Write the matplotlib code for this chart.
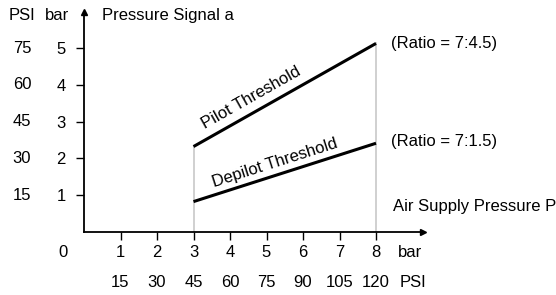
import numpy as np
import matplotlib
matplotlib.use('Agg')
import matplotlib.pyplot as plt

plt.rcParams['font.family'] = ['Liberation Sans', 'DejaVu Sans']
plt.rcParams['font.size'] = 12

# data (bar)
supply_bar = [3, 8]
pilot_bar = [2.32, 5.13]
depilot_bar = [0.82, 2.41]

x_ticks = [1, 2, 3, 4, 5, 6, 7, 8]
x_psi = ['15', '30', '45', '60', '75', '90', '105', '120']
y_ticks = [1, 2, 3, 4, 5]
y_psi = ['15', '30', '45', '60', '75']

W, H = 556, 295
fig = plt.figure(figsize=(W / 100, H / 100), dpi=100)

# origin at pixel (84, 231.7), ~36.5 px per bar
x0, y0 = 84, 231.7
xmax, ymax = 9.3, 5.99
ax = fig.add_axes([x0 / W, (H - y0) / H, xmax * 36.5 / W, ymax * 36.7 / H])
ax.set_xlim(0, xmax)
ax.set_ylim(0, ymax)

for s in ['top', 'right']:
    ax.spines[s].set_visible(False)
for s in ['left', 'bottom']:
    ax.spines[s].set_linewidth(1.3)

# arrow heads
ax.plot(1, 0, '>k', ms=5, transform=ax.get_yaxis_transform(), clip_on=False)
ax.plot(0, 1, '^k', ms=5, transform=ax.get_xaxis_transform(), clip_on=False)

ax.set_xticks(x_ticks)
ax.set_yticks(y_ticks)
ax.tick_params(axis='x', length=5.5, width=1, pad=4)
ax.tick_params(axis='y', length=6, width=1, pad=7)

# grey verticals at the ends of the supply range
ax.plot([supply_bar[0]] * 2, [0, pilot_bar[0]], color='#c8c8c8', lw=1.2, zorder=1)
ax.plot([supply_bar[1]] * 2, [0, pilot_bar[1]], color='#c8c8c8', lw=1.2, zorder=1)

ax.plot(supply_bar, pilot_bar, color='black', lw=2.2, solid_capstyle='butt', zorder=3)
ax.plot(supply_bar, depilot_bar, color='black', lw=2.2, solid_capstyle='butt', zorder=3)

def slope_deg(ys):
    return np.degrees(np.arctan2(ys[1] - ys[0], supply_bar[1] - supply_bar[0]))

ax.text(4.58, 3.64, 'Pilot Threshold', rotation=slope_deg(pilot_bar),
        transform_rotates_text=True, rotation_mode='anchor',
        ha='center', va='center')
ax.text(5.23, 1.88, 'Depilot Threshold', rotation=slope_deg(depilot_bar),
        transform_rotates_text=True, rotation_mode='anchor',
        ha='center', va='center')

# ratio notes
ax.annotate('(Ratio = 7:4.5)', xy=(supply_bar[1], pilot_bar[1]), xytext=(15, 0),
            textcoords='offset pixels', va='center', ha='left', annotation_clip=False)
ax.annotate('(Ratio = 7:1.5)', xy=(supply_bar[1], depilot_bar[1]), xytext=(15, 2),
            textcoords='offset pixels', va='center', ha='left', annotation_clip=False)

ax.text(8.46, 0.68, 'Air Supply Pressure P', ha='left', va='center', clip_on=False)
ax.annotate('Pressure Signal a', xy=(0, ymax), xytext=(18, -4),
            textcoords='offset pixels', ha='left', va='center', annotation_clip=False)

# PSI row under the x axis
for xv, lab in zip(x_ticks, x_psi):
    ax.annotate(lab, xy=(xv, 0), xytext=(0, -51), textcoords='offset pixels',
                ha='center', va='center', annotation_clip=False)
ax.annotate('bar', xy=(xmax, 0), xytext=(-13, -21), textcoords='offset pixels',
            ha='center', va='center', annotation_clip=False)
ax.annotate('PSI', xy=(xmax, 0), xytext=(-10, -51), textcoords='offset pixels',
            ha='center', va='center', annotation_clip=False)
ax.annotate('0', xy=(0, 0), xytext=(-21, -21), textcoords='offset pixels',
            ha='center', va='center', annotation_clip=False)

# PSI column left of the y axis
for yv, lab in zip(y_ticks, y_psi):
    ax.annotate(lab, xy=(0, yv), xytext=(-62, 0), textcoords='offset pixels',
                ha='center', va='center', annotation_clip=False)
ax.annotate('PSI', xy=(0, ymax), xytext=(-62, -4), textcoords='offset pixels',
            ha='center', va='center', annotation_clip=False)
ax.annotate('bar', xy=(0, ymax), xytext=(-27, -4), textcoords='offset pixels',
            ha='center', va='center', annotation_clip=False)

fig.savefig('out.png', dpi=100)
